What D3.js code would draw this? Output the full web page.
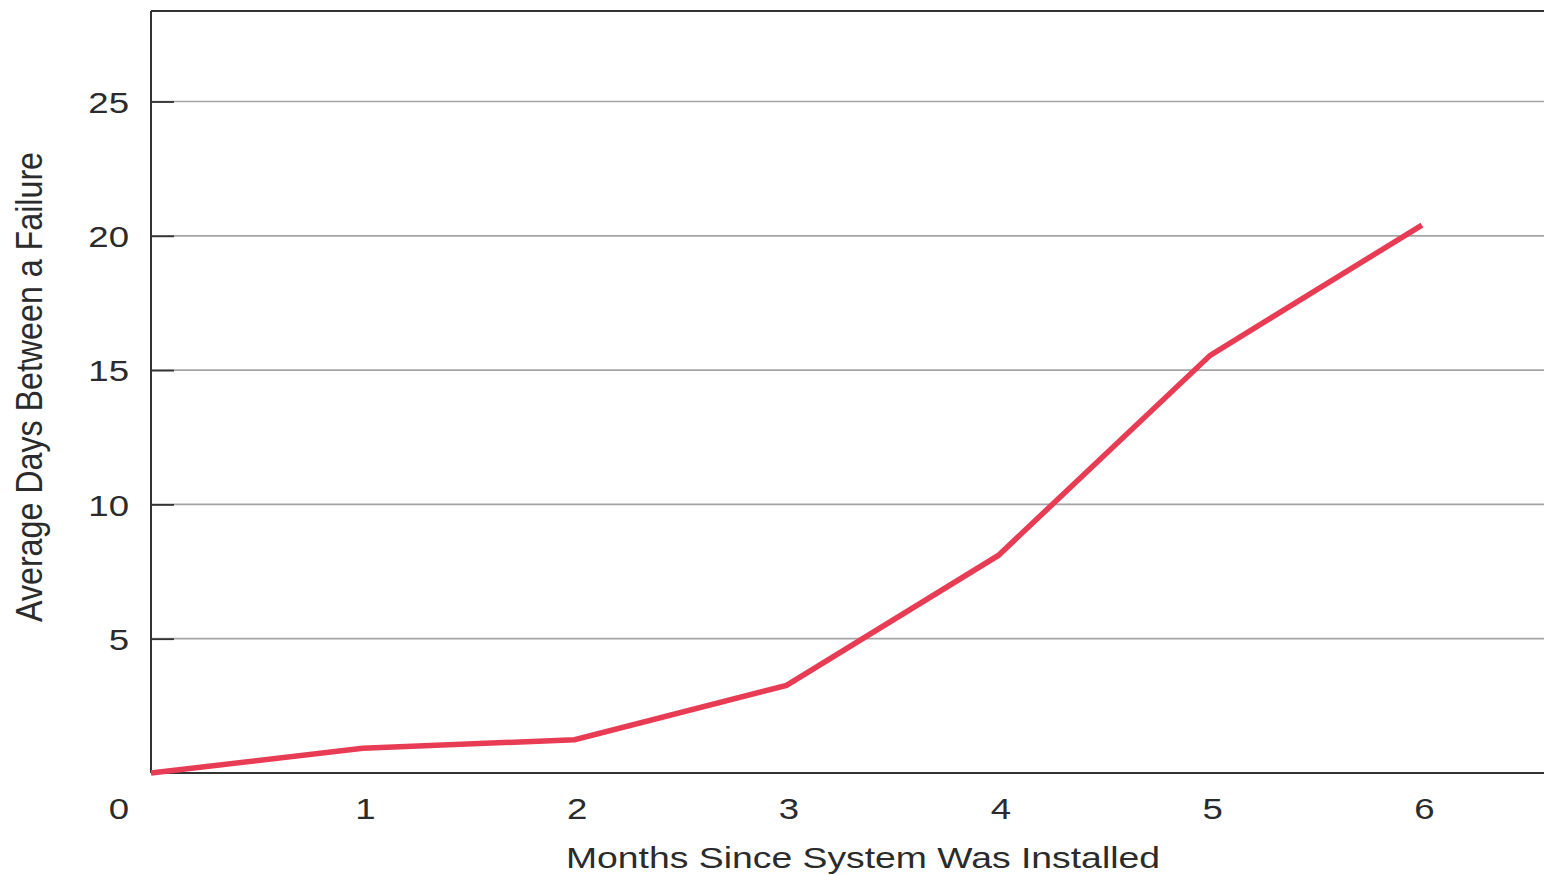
<!DOCTYPE html>
<html>
<head>
<meta charset="utf-8">
<script src="https://cdn.jsdelivr.net/npm/d3@7"></script>
<style>
  html, body { margin: 0; padding: 0; background: #fff; }
  svg { display: block; font-family: "Liberation Sans", Arial, Helvetica, sans-serif; }
</style>
</head>
<body>
<svg id="chart" width="1544" height="875"></svg>
<script>
// Months since installation and average days between failures
const months = [0, 1, 2, 3, 4, 5, 6];
const avgDays = [0, 0.92, 1.24, 3.26, 8.1, 15.55, 20.4];
const yTicks = [5, 10, 15, 20, 25];
const xTicks = [1, 2, 3, 4, 5, 6];
const originLabel = "0";
const xTitle = "Months Since System Was Installed";
const yTitle = "Average Days Between a Failure";

const W = 1544, H = 875;
const margin = { left: 151, top: 11, right: 0, bottom: 102 };
const innerW = W - margin.left - margin.right;
const innerH = H - margin.top - margin.bottom;
const textColor = "#2b2b2b";
const stretch = 1.22; // wide set type

const svg = d3.select("#chart");
const g = svg.append("g").attr("transform", `translate(${margin.left},${margin.top})`);

const x = d3.scaleLinear().domain([0, 6.576]).range([0, innerW]);
const y = d3.scaleLinear().domain([0, 28.37]).range([innerH, 0]);

// horizontal gridlines
g.append("g").selectAll("line").data(yTicks).join("line")
  .attr("x1", 0).attr("x2", innerW)
  .attr("y1", d => y(d)).attr("y2", d => y(d))
  .attr("stroke", "#a4a4a4").attr("stroke-width", 1.7);

// y axis with short inward ticks
const yAxis = g.append("g")
  .call(d3.axisRight(y).tickValues(yTicks).tickSize(23).tickFormat(""));
yAxis.select(".domain").remove();
yAxis.selectAll(".tick line").attr("stroke", "#333").attr("stroke-width", 1.8);

yAxis.selectAll(".tick").append("g")
  .attr("transform", `translate(-22,0) scale(${stretch},1)`)
  .append("text")
  .attr("dy", "0.36em")
  .attr("text-anchor", "end")
  .attr("fill", textColor).attr("font-size", 30)
  .text(d => d);

// x axis labels
const xAxis = g.append("g").attr("transform", `translate(0,${innerH})`)
  .call(d3.axisBottom(x).tickValues(xTicks).tickSize(0).tickFormat(""));
xAxis.select(".domain").remove();
xAxis.selectAll(".tick").append("g")
  .attr("transform", `translate(2,35) scale(${stretch},1)`)
  .append("text")
  .attr("dy", "0.36em")
  .attr("text-anchor", "middle")
  .attr("fill", textColor).attr("font-size", 30)
  .text(d => d);

// shared origin label
g.append("g")
  .attr("transform", `translate(${x(0) - 32},${innerH + 35}) scale(${stretch},1)`)
  .append("text")
  .attr("dy", "0.36em")
  .attr("text-anchor", "middle")
  .attr("fill", textColor).attr("font-size", 30)
  .text(originLabel);

// frame: top, left and bottom lines
g.append("line").attr("x1", 0).attr("x2", innerW).attr("y1", 0).attr("y2", 0)
  .attr("stroke", "#333").attr("stroke-width", 2);
g.append("line").attr("x1", 0).attr("x2", 0).attr("y1", 0).attr("y2", innerH)
  .attr("stroke", "#333").attr("stroke-width", 2);
g.append("line").attr("x1", 0).attr("x2", innerW).attr("y1", innerH).attr("y2", innerH)
  .attr("stroke", "#333").attr("stroke-width", 2);

// data line
const line = d3.line().x((d, i) => x(months[i])).y(d => y(d));
g.append("path").datum(avgDays)
  .attr("d", line)
  .attr("fill", "none")
  .attr("stroke", "#e83c55")
  .attr("stroke-width", 5.5)
  .attr("stroke-linejoin", "miter");

// axis titles
svg.append("text")
  .attr("x", 863).attr("y", 857).attr("dy", "0.36em")
  .attr("text-anchor", "middle")
  .attr("fill", textColor).attr("font-size", 30)
  .attr("textLength", 594).attr("lengthAdjust", "spacingAndGlyphs")
  .text(xTitle);

svg.append("g")
  .attr("transform", `translate(29,387) scale(${stretch},1) rotate(-90)`)
  .append("text")
  .attr("dy", "0.36em")
  .attr("text-anchor", "middle")
  .attr("fill", textColor).attr("font-size", 30)
  .attr("textLength", 470).attr("lengthAdjust", "spacingAndGlyphs")
  .text(yTitle);
</script>
</body>
</html>
